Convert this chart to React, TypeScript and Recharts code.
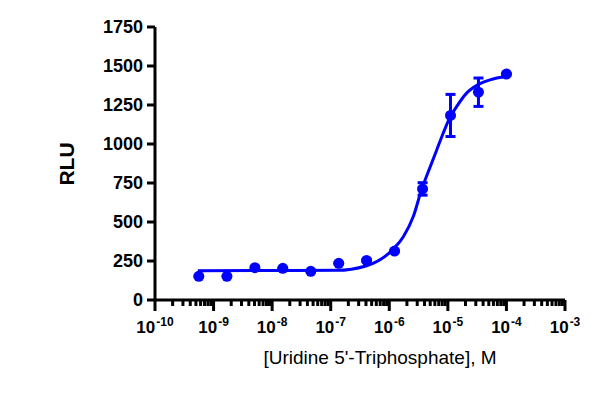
import { ComposedChart, Line, Scatter, ErrorBar, XAxis, YAxis, Label } from 'recharts'

// measured points (3-fold dilutions)
const conc = [5.6e-10, 1.69e-9, 5.08e-9, 1.52e-8, 4.57e-8, 1.37e-7, 4.1e-7, 1.23e-6, 3.7e-6, 1.11e-5, 3.33e-5, 1.0e-4]
const rlu = [152, 152, 207, 203, 184, 235, 254, 314, 712, 1183, 1332, 1448]
const rluErr = [5, 5, 5, 5, 5, 5, 5, 5, 40, 135, 91, 5]

// fitted curve
const curveLogX = [-9.27, -6.9, -6.4, -5.92, -5.76, -5.59, -5.45, -5.3, -5.19, -5.08, -4.97, -4.85, -4.68, -4.49, -4.28, -4.0]
const curveY = [188, 190, 218, 331, 406, 535, 706, 855, 962, 1069, 1166, 1240, 1326, 1379, 1411, 1432]

const yTicks = [0, 250, 500, 750, 1000, 1250, 1500, 1750]
const decades = [-10, -9, -8, -7, -6, -5, -4, -3]

const points = conc.map((x, i) => ({ x, y: rlu[i], err: rluErr[i] }))
const curve = curveLogX.map((lx, i) => ({ x: Math.pow(10, lx), y: curveY[i] }))

const xTicks: number[] = []
decades.forEach((d) => {
  if (d === -3) {
    xTicks.push(1e-3)
    return
  }
  for (let m = 1; m <= 9; m++) xTicks.push(m * Math.pow(10, d))
})

const BLUE = '#0000ff'
const FONT = '"Liberation Sans", Arial, sans-serif'

const XTick = (props: any) => {
  const { x, y, payload } = props
  const e = Math.log10(payload.value)
  const major = Math.abs(e - Math.round(e)) < 1e-6
  return (
    <g>
      <line x1={x} x2={x} y1={y} y2={y + (major ? 11 : 6)} stroke='#000' strokeWidth={3} />
      {major && (
        <text x={x} y={y + 33} textAnchor='middle' fontFamily={FONT} fontSize={17} fontWeight='bold' fill='#000'>
          10<tspan dx={1} dy={-7} fontSize={12}>{Math.round(e)}</tspan>
        </text>
      )}
    </g>
  )
}

const Dot = (p: any) => <circle cx={p.cx} cy={p.cy} r={5.5} fill={BLUE} />

const App = () => {
  return (
    <div style={{ position: 'absolute', left: 0, top: 0 }}>
      <ComposedChart width={614} height={397} margin={{ top: 27, right: 49, left: 0, bottom: 0 }}>
        <XAxis
          dataKey='x'
          type='number'
          scale='log'
          domain={[1e-10, 1e-3]}
          allowDataOverflow
          ticks={xTicks}
          interval={0}
          tick={<XTick />}
          tickLine={false}
          tickSize={0}
          tickMargin={0}
          axisLine={{ stroke: '#000', strokeWidth: 3 }}
          height={97}>
          <Label
            content={() => (
              <text x={380} y={364} textAnchor='middle' fontFamily={FONT} fontSize={19} fill='#000'>
                [Uridine 5'-Triphosphate], M
              </text>
            )}
          />
        </XAxis>
        <YAxis
          dataKey='y'
          type='number'
          domain={[0, 1750]}
          ticks={yTicks}
          interval={0}
          width={155}
          tickSize={8}
          tickMargin={4}
          tick={{ fontFamily: FONT, fontSize: 18, fontWeight: 'bold', fill: '#000' }}
          tickLine={{ stroke: '#000', strokeWidth: 3 }}
          axisLine={{ stroke: '#000', strokeWidth: 3 }}>
          <Label
            content={() => (
              <text
                x={68}
                y={164}
                transform='rotate(-90 68 164)'
                textAnchor='middle'
                dominantBaseline='middle'
                fontFamily={FONT}
                fontSize={21}
                fontWeight='bold'
                fill='#000'>
                RLU
              </text>
            )}
          />
        </YAxis>
        <Line
          data={curve}
          dataKey='y'
          type='monotone'
          stroke={BLUE}
          strokeWidth={3}
          dot={false}
          activeDot={false}
          isAnimationActive={false}
        />
        <Scatter data={points} dataKey='y' shape={<Dot />} isAnimationActive={false}>
          <ErrorBar dataKey='err' direction='y' width={5} strokeWidth={3} stroke={BLUE} />
        </Scatter>
      </ComposedChart>
    </div>
  )
}

export default App
